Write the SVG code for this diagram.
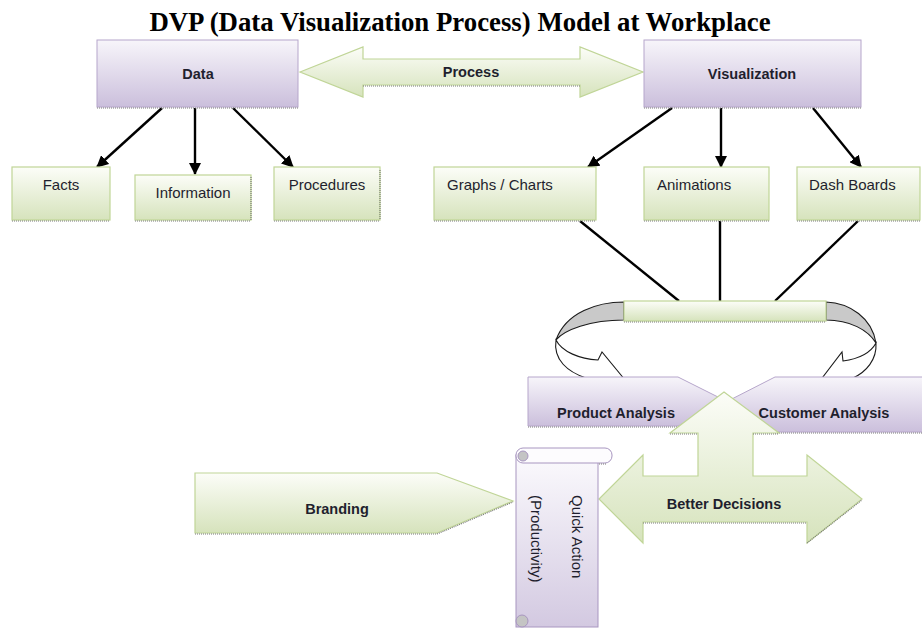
<svg xmlns="http://www.w3.org/2000/svg" width="922" height="629" viewBox="0 0 922 629">
  <defs>
    <linearGradient id="gPurple" x1="0" y1="0" x2="0" y2="1">
      <stop offset="0" stop-color="#f7f5fa"/>
      <stop offset="1" stop-color="#cbbfdc"/>
    </linearGradient>
    <linearGradient id="gGreen" x1="0" y1="0" x2="0" y2="1">
      <stop offset="0" stop-color="#fcfdf8"/>
      <stop offset="1" stop-color="#d6e3bc"/>
    </linearGradient>
    <linearGradient id="gScroll" x1="0" y1="0" x2="0" y2="1">
      <stop offset="0" stop-color="#fbfafd"/>
      <stop offset="1" stop-color="#d3c9e1"/>
    </linearGradient>
    <marker id="arrowHead" markerUnits="userSpaceOnUse" markerWidth="12" markerHeight="12" refX="11" refY="6" orient="auto">
      <path d="M0,0 L12,6 L0,12 z" fill="#000"/>
    </marker>
    <style>
      .purple { fill: url(#gPurple); stroke: #b6a6cb; stroke-width: 1; }
      .green { fill: url(#gGreen); stroke: #c0d597; stroke-width: 1.2; }
      .shadow { fill: none; stroke: #7a7a7a; stroke-width: 1.2; stroke-dasharray: 1 1; }
      .conn { stroke: #000; stroke-width: 2.4; fill: none; }
      .arrow { marker-end: url(#arrowHead); }
      .curl { stroke: #1a1a1a; stroke-width: 1.1; }
      .lbl { font-family: "Liberation Sans", Arial, sans-serif; font-size: 15px; fill: #1f1f2e; }
      .bold { font-weight: bold; font-size: 14.5px; }
      .mid { text-anchor: middle; }
      .title { font-family: "Liberation Serif", "Times New Roman", serif; font-weight: bold; font-size: 26.8px; fill: #000; text-anchor: middle; }
    </style>
  </defs>

  <rect width="922" height="629" fill="#fff"/>

  <text class="title" x="460" y="31">DVP (Data Visualization Process) Model at Workplace</text>

  <!-- connectors -->
  <g id="connectors">
    <line class="conn arrow" x1="162" y1="108" x2="97" y2="167"/>
    <line class="conn arrow" x1="195" y1="108" x2="195" y2="174"/>
    <line class="conn arrow" x1="233" y1="108" x2="293" y2="167"/>
    <line class="conn arrow" x1="672" y1="108" x2="588" y2="167"/>
    <line class="conn arrow" x1="721" y1="108" x2="721" y2="167"/>
    <line class="conn arrow" x1="813" y1="108" x2="861" y2="167"/>
    <line class="conn" x1="580" y1="221" x2="679" y2="301"/>
    <line class="conn" x1="720" y1="221" x2="720" y2="301"/>
    <line class="conn" x1="858" y1="221" x2="775" y2="301"/>
  </g>

  <!-- top row -->
  <g id="data">
    <rect class="purple" x="97" y="40" width="201" height="67"/>
    <line class="shadow" x1="97" y1="108" x2="298" y2="108"/>
    <text class="lbl bold mid" x="198" y="79">Data</text>
  </g>

  <g id="process">
    <polygon class="green" points="300,72 363,47 363,59 580,59 580,47 643,72 580,97 580,85 363,85 363,97"/>
    <line class="shadow" x1="363" y1="86" x2="580" y2="86"/>
    <text class="lbl bold mid" x="471" y="77">Process</text>
  </g>

  <g id="visualization">
    <rect class="purple" x="644" y="40" width="217" height="67"/>
    <line class="shadow" x1="644" y1="108" x2="861" y2="108"/>
    <text class="lbl bold mid" x="752" y="79">Visualization</text>
  </g>

  <!-- second row -->
  <g id="facts">
    <rect class="green" x="12" y="167" width="98" height="53"/>
    <line class="shadow" x1="12" y1="221" x2="110" y2="221"/>
    <text class="lbl mid" x="61" y="190">Facts</text>
  </g>
  <g id="information">
    <rect class="green" x="135" y="175" width="116" height="45"/>
    <line class="shadow" x1="135" y1="221" x2="251" y2="221"/>
    <line class="shadow" x1="251" y1="177" x2="251" y2="220"/>
    <text class="lbl mid" x="193" y="198">Information</text>
  </g>
  <g id="procedures">
    <rect class="green" x="274" y="167" width="106" height="53"/>
    <line class="shadow" x1="274" y1="221" x2="380" y2="221"/>
    <line class="shadow" x1="380" y1="170" x2="380" y2="220"/>
    <text class="lbl mid" x="327" y="190">Procedures</text>
  </g>
  <g id="graphs">
    <rect class="green" x="434" y="167" width="162" height="53"/>
    <line class="shadow" x1="434" y1="221" x2="596" y2="221"/>
    <text class="lbl" x="447" y="190">Graphs / Charts</text>
  </g>
  <g id="animations">
    <rect class="green" x="644" y="167" width="125" height="53"/>
    <line class="shadow" x1="644" y1="221" x2="769" y2="221"/>
    <text class="lbl" x="657" y="190">Animations</text>
  </g>
  <g id="dashboards">
    <rect class="green" x="797" y="167" width="123" height="53"/>
    <line class="shadow" x1="797" y1="221" x2="920" y2="221"/>
    <text class="lbl" x="809" y="190">Dash Boards</text>
  </g>

  <!-- collector bar with curled arrows -->
  <g id="collector">
    <path class="curl" fill="#c9c9c9" d="M624,302 C598,302 566,312 556,340 C564,330 590,320 624,320 Z"/>
    <path class="curl" fill="#fff" d="M556,340 C562,352 580,359 598,360 L602,352 L630,386 L582,392 L586,378 C568,372 553,360 556,340 Z"/>
    <path class="curl" fill="#c9c9c9" d="M826,302 C850,303 872,318 876,343 C868,330 850,320 826,320 Z"/>
    <path class="curl" fill="#fff" d="M876,343 C870,354 858,359 843,361 L842,352 L816,386 L862,392 L853,378 C866,372 877,360 876,343 Z"/>
    <rect class="green" x="624" y="301" width="202" height="20"/>
    <line class="shadow" x1="624" y1="322" x2="826" y2="322"/>
  </g>

  <g id="product-analysis">
    <polygon class="purple" points="528,377 678,377 728,402 678,426 528,426"/>
    <line class="shadow" x1="528" y1="427" x2="678" y2="427"/>
    <text class="lbl bold mid" x="616" y="418">Product Analysis</text>
  </g>

  <g id="customer-analysis">
    <polygon class="purple" points="930,377 775,377 722,404 775,432 930,432"/>
    <line class="shadow" x1="775" y1="433" x2="922" y2="433"/>
    <text class="lbl bold mid" x="824" y="418">Customer Analysis</text>
  </g>

  <g id="better-decisions">
    <polygon class="green" points="724,392 779,433 753,433 753,476 807,476 807,455 862,499 807,543 807,522 643,522 643,543 599,499 643,455 643,476 698,476 698,433 670,433"/>
    <line class="shadow" x1="670" y1="434" x2="698" y2="434"/>
    <line class="shadow" x1="753" y1="434" x2="779" y2="434"/>
    <line class="shadow" x1="643" y1="523" x2="807" y2="523"/>
    <line class="shadow" x1="807" y1="543" x2="862" y2="500"/>
    <text class="lbl bold mid" x="724" y="509">Better Decisions</text>
  </g>

  <g id="branding">
    <polygon class="green" points="195,473 437,473 513,501 437,533 195,533"/>
    <line class="shadow" x1="195" y1="534" x2="437" y2="534"/>
    <line class="shadow" x1="437" y1="534" x2="513" y2="502"/>
    <text class="lbl bold mid" x="337" y="514">Branding</text>
  </g>

  <g id="quick-action">
    <rect x="516" y="455" width="82" height="172" fill="url(#gScroll)" stroke="#a896c0" stroke-width="1"/>
    <rect x="516" y="448" width="96" height="15" rx="7" ry="7" fill="#fdfcfe" stroke="#a896c0" stroke-width="1"/>
    <circle cx="523" cy="456" r="5" fill="#c4c4c4" stroke="#a896c0" stroke-width="1"/>
    <circle cx="522" cy="621" r="6" fill="#c4c4c4" stroke="#a896c0" stroke-width="1"/>
    <line class="shadow" x1="599" y1="464" x2="606" y2="464"/>
    <text class="lbl" font-size="15.5" transform="translate(572,495) rotate(90)">Quick Action</text>
    <text class="lbl" font-size="15.5" transform="translate(531,495) rotate(90)">(Productivity)</text>
  </g>
</svg>
